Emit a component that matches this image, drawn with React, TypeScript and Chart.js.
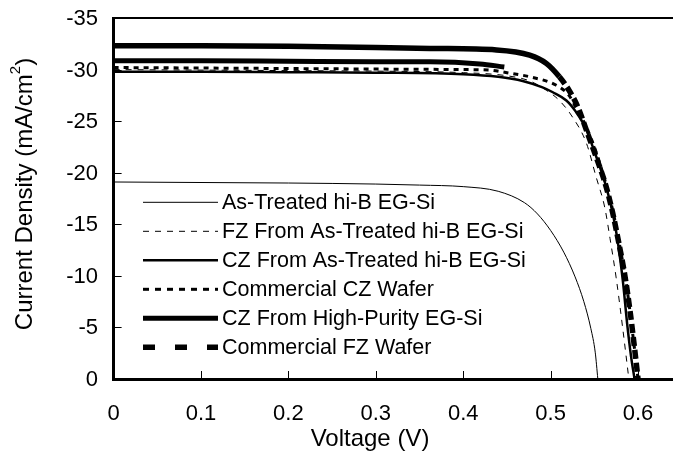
import React, { useEffect, useRef } from "react";
import { Chart, registerables } from "chart.js";

Chart.register(...registerables);

// ---- Data (Voltage in V, current density in mA/cm^2) ----
const xTicks = [0, 0.1, 0.2, 0.3, 0.4, 0.5, 0.6];
const xTickLabels = ["0", "0.1", "0.2", "0.3", "0.4", "0.5", "0.6"];
const yTicks = [-35, -30, -25, -20, -15, -10, -5, 0];
const yTickLabels = ["-35", "-30", "-25", "-20", "-15", "-10", "-5", "0"];

const seriesLabels = [
  "As-Treated hi-B EG-Si",
  "FZ From As-Treated hi-B EG-Si",
  "CZ From As-Treated hi-B EG-Si",
  "Commercial CZ Wafer",
  "CZ From High-Purity EG-Si",
  "Commercial FZ Wafer",
];

const asTreatedV = [0, 0.1, 0.2, 0.3, 0.35, 0.4, 0.44, 0.47, 0.485, 0.5, 0.515, 0.528, 0.538, 0.546, 0.551, 0.554];
const asTreatedJ = [-19.1, -19.05, -19.0, -18.9, -18.8, -18.65, -18.2, -17.1, -16.0, -14.4, -12.3, -9.9, -7.5, -4.9, -2.6, 0];

const fzAsV = [0, 0.1, 0.2, 0.3, 0.4, 0.45, 0.476, 0.495, 0.51, 0.525, 0.541, 0.552, 0.562, 0.568, 0.575, 0.5825, 0.5895];
const fzAsJ = [-30.0, -29.95, -29.9, -29.85, -29.7, -29.4, -28.9, -28.0, -27.0, -25.4, -22.85, -19.6, -16.6, -13.6, -9.8, -4.9, 0];

const czAsV = [0, 0.1, 0.2, 0.3, 0.4, 0.44, 0.468, 0.49, 0.5025, 0.518, 0.529, 0.539, 0.552, 0.5635, 0.571, 0.5765, 0.5825, 0.588, 0.592, 0.596];
const czAsJ = [-29.8, -29.8, -29.75, -29.7, -29.55, -29.3, -28.9, -28.3, -27.8, -27.0, -25.9, -24.5, -21.6, -18.65, -16.1, -13.5, -9.6, -5.0, -2.2, 0];

const comCzV = [0, 0.1, 0.2, 0.3, 0.4, 0.43, 0.45, 0.476, 0.506, 0.521, 0.529, 0.54, 0.552, 0.563, 0.572, 0.58, 0.587, 0.593, 0.597, 0.6];
const comCzJ = [-30.2, -30.15, -30.1, -30.05, -30.0, -29.95, -29.7, -29.3, -28.5, -27.5, -26.3, -24.6, -22.0, -19.0, -16.0, -12.5, -9.0, -5.0, -2.2, 0];

const czHpV = [0, 0.1, 0.2, 0.3, 0.362, 0.419, 0.447];
const czHpJ = [-30.85, -30.85, -30.8, -30.75, -30.75, -30.55, -30.25];

const comFzV = [0, 0.1, 0.2, 0.3, 0.362, 0.438, 0.476, 0.495, 0.51, 0.521, 0.531, 0.541, 0.552, 0.5635, 0.571, 0.578, 0.585, 0.591, 0.596, 0.6];
const comFzJ = [-32.3, -32.3, -32.25, -32.15, -32.05, -31.9, -31.4, -30.6, -29.3, -28.0, -26.4, -24.1, -21.55, -18.65, -16.1, -13.2, -10.0, -6.5, -3.0, 0];

const FONT = "'Liberation Sans', Arial, sans-serif";

const zip = (xs: number[], ys: number[]) => xs.map((x, i) => ({ x, y: ys[i] }));

const styles = [
  { width: 1, dash: [] as number[], legendDash: [] as number[] },
  { width: 1, dash: [6, 6], legendDash: [6, 6] },
  { width: 2.5, dash: [], legendDash: [] },
  { width: 3, dash: [5, 5], legendDash: [6, 6] },
  { width: 5, dash: [], legendDash: [] },
  { width: 5.5, dash: [9, 4], legendDash: [12, 20] },
];

const overlay = {
  id: "overlay",
  afterDraw(chart: any) {
    const ctx = chart.ctx as CanvasRenderingContext2D;
    const { left, right, top, bottom } = chart.chartArea;
    const xs = chart.scales.x;
    const ys = chart.scales.y;
    ctx.save();
    ctx.strokeStyle = "#000";
    ctx.fillStyle = "#000";
    ctx.setLineDash([]);
    // top border
    ctx.lineWidth = 2;
    ctx.beginPath();
    ctx.moveTo(left, top);
    ctx.lineTo(right, top);
    ctx.stroke();
    // inward tick marks
    ctx.lineWidth = 1;
    yTicks.forEach((v) => {
      const py = Math.round(ys.getPixelForValue(v)) + 0.5;
      ctx.beginPath();
      ctx.moveTo(left, py);
      ctx.lineTo(left + 8, py);
      ctx.stroke();
    });
    xTicks.forEach((v) => {
      const px = Math.round(xs.getPixelForValue(v)) + 0.5;
      ctx.beginPath();
      ctx.moveTo(px, bottom);
      ctx.lineTo(px, bottom - 8);
      ctx.stroke();
    });
    // tick labels
    ctx.font = `22px ${FONT}`;
    ctx.textBaseline = "middle";
    ctx.textAlign = "right";
    yTicks.forEach((v, i) => {
      ctx.fillText(yTickLabels[i], 98, ys.getPixelForValue(v) + 1);
    });
    ctx.textAlign = "center";
    xTicks.forEach((v, i) => {
      ctx.fillText(xTickLabels[i], xs.getPixelForValue(v), 414);
    });
    // axis titles
    ctx.font = `24px ${FONT}`;
    ctx.fillText("Voltage (V)", 370, 439);

    ctx.save();
    ctx.translate(25, 194);
    ctx.rotate(-Math.PI / 2);
    const p1 = "Current Density (mA/cm";
    const p2 = "2";
    const p3 = ")";
    ctx.font = `24px ${FONT}`;
    const w1 = ctx.measureText(p1).width;
    const w3 = ctx.measureText(p3).width;
    ctx.font = `15px ${FONT}`;
    const w2 = ctx.measureText(p2).width;
    const total = w1 + w2 + w3;
    ctx.textAlign = "left";
    const x0 = -total / 2;
    ctx.font = `24px ${FONT}`;
    ctx.fillText(p1, x0, 0);
    ctx.font = `15px ${FONT}`;
    ctx.fillText(p2, x0 + w1, -9);
    ctx.font = `24px ${FONT}`;
    ctx.fillText(p3, x0 + w1 + w2, 0);
    ctx.restore();

    // legend
    ctx.font = `21.5px ${FONT}`;
    ctx.textAlign = "left";
    ctx.textBaseline = "middle";
    seriesLabels.forEach((label, i) => {
      const y = 202.3 + i * 29;
      const st = styles[i];
      ctx.lineWidth = st.width;
      ctx.setLineDash(st.legendDash);
      ctx.lineCap = "butt";
      ctx.beginPath();
      ctx.moveTo(143, y);
      ctx.lineTo(218, y);
      ctx.stroke();
      ctx.setLineDash([]);
      ctx.fillText(label, 222, y + 1);
    });
    ctx.restore();
  },
};

export default function App() {
  const ref = useRef<HTMLCanvasElement | null>(null);
  useEffect(() => {
    if (!ref.current) return;
    const sets = [
      zip(asTreatedV, asTreatedJ),
      zip(fzAsV, fzAsJ),
      zip(czAsV, czAsJ),
      zip(comCzV, comCzJ),
      zip(czHpV, czHpJ),
      zip(comFzV, comFzJ),
    ];
    const datasets = sets.map((data, i) => {
      const st = styles[i];
      const ds: any = {
        label: seriesLabels[i],
        data,
        borderColor: "#000",
        backgroundColor: "#000",
        borderWidth: st.width,
        borderDash: st.dash,
        pointRadius: 0,
        fill: false,
        cubicInterpolationMode: "monotone",
        order: 10 - i,
      };
      if (i === 5) {
        ds.segment = {
          borderDash: (c: any) => (c.p0.parsed.x < 0.5 ? [] : [9, 4]),
        };
      }
      return ds;
    });
    const chart = new Chart(ref.current, {
      type: "line",
      data: { datasets },
      options: {
        animation: false,
        responsive: false,
        devicePixelRatio: 1,
        layout: { padding: { left: 0, right: 0, top: 18, bottom: 0 } },
        plugins: { legend: { display: false }, tooltip: { enabled: false } },
        scales: {
          x: {
            type: "linear",
            min: 0,
            max: 0.64,
            grid: { display: false, drawTicks: false },
            border: { display: true, color: "#000", width: 3 },
            afterBuildTicks: (s: any) => {
              s.ticks = xTicks.map((v) => ({ value: v }));
            },
            afterFit: (s: any) => {
              s.height = 74;
            },
            ticks: { display: false },
          },
          y: {
            type: "linear",
            min: -35,
            max: 0,
            reverse: true,
            grid: { display: false, drawTicks: false },
            border: { display: true, color: "#000", width: 3 },
            afterBuildTicks: (s: any) => {
              s.ticks = yTicks.map((v) => ({ value: v }));
            },
            afterFit: (s: any) => {
              s.width = 113.6;
            },
            ticks: { display: false },
          },
        },
      },
      plugins: [overlay],
    });
    return () => chart.destroy();
  }, []);
  return (
    <div style={{ position: "fixed", left: 0, top: 0, width: 673, height: 453, background: "#fff" }}>
      <canvas ref={ref} width={673} height={453} style={{ width: 673, height: 453 }} />
    </div>
  );
}
